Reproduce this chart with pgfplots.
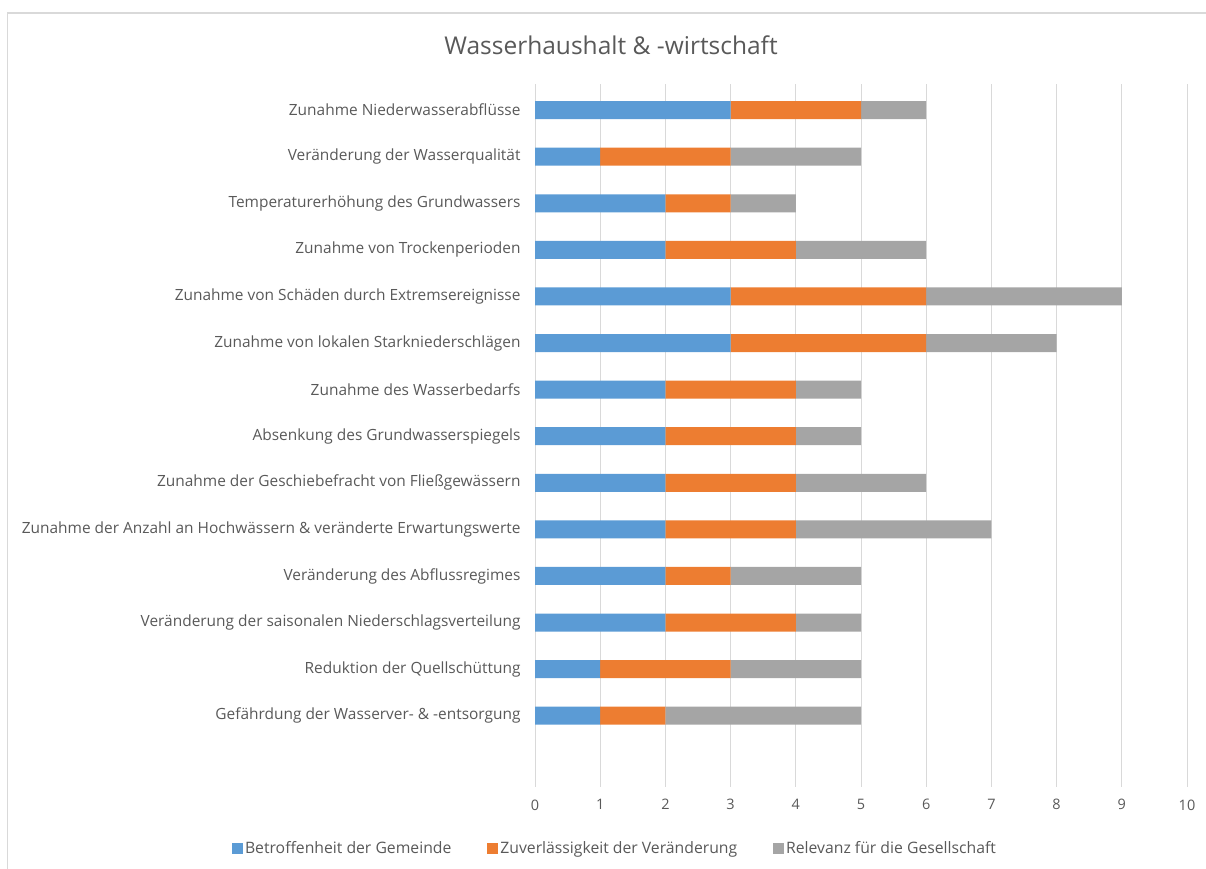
\documentclass[border=0pt]{standalone}
\usepackage{pgfplots}
\pgfplotsset{compat=1.18}
\usepackage{fontspec}
\setmainfont{Open Sans}
\definecolor{cblue}{HTML}{5B9BD5}
\definecolor{corange}{HTML}{ED7D31}
\definecolor{cgray}{HTML}{A5A5A5}
\definecolor{ctext}{HTML}{595959}
\definecolor{cgrid}{HTML}{D9D9D9}
\begin{document}
\begin{tikzpicture}
\path[use as bounding box] (0bp,0bp) rectangle (1206bp,869bp);
\draw[cgrid, line width=1.2bp] (7.5bp,0bp) -- (7.5bp,856bp) -- (1206bp,856bp);
\node[text=ctext, font=\fontsize{24.6}{29}\selectfont] at (611bp,824bp) {Wasserhaushalt \& -wirtschaft};
\begin{axis}[
  at={(535bp,82bp)}, anchor=south west,
  scale only axis, width=652bp, height=703bp,
  xbar stacked, bar width=18bp,
  xmin=0, xmax=10, xtick={0,...,10},
  ymin=0.44, ymax=15.53, y dir=reverse,
  ytick={1,...,14},
  yticklabels={
    Zunahme Niederwasserabflüsse,
    Veränderung der Wasserqualität,
    Temperaturerhöhung des Grundwassers,
    Zunahme von Trockenperioden,
    Zunahme von Schäden durch Extremsereignisse,
    Zunahme von lokalen Starkniederschlägen,
    Zunahme des Wasserbedarfs,
    Absenkung des Grundwasserspiegels,
    Zunahme der Geschiebefracht von Fließgewässern,
    Zunahme der Anzahl an Hochwässern \& veränderte Erwartungswerte,
    Veränderung des Abflussregimes,
    Veränderung der saisonalen Niederschlagsverteilung,
    Reduktion der Quellschüttung,
    Gefährdung der Wasserver- \& -entsorgung},
  axis line style={draw=none},
  major tick length=0pt,
  xmajorgrids, grid style={cgrid, line width=0.9bp},
  ticklabel style={text=ctext},
  yticklabel style={xshift=-11bp, font=\fontsize{15.5}{18}\selectfont},
  xticklabel style={yshift=-9bp, font=\fontsize{14.5}{17}\selectfont},
  /pgf/number format/assume math mode=true,
  legend columns=3,
  legend style={at={(0.1227,-0.0868)}, anchor=center, draw=none,
    font=\fontsize{15.8}{18}\selectfont, text=ctext,
    /tikz/every even column/.append style={column sep=34bp}},
  legend image code/.code={\fill[#1] (0bp,-5.5bp) rectangle (11bp,5.5bp);},
]
\addplot[fill=cblue, draw=none] coordinates {(3,1) (1,2) (2,3) (2,4) (3,5) (3,6) (2,7) (2,8) (2,9) (2,10) (2,11) (2,12) (1,13) (1,14)};
\addplot[fill=corange, draw=none] coordinates {(2,1) (2,2) (1,3) (2,4) (3,5) (3,6) (2,7) (2,8) (2,9) (2,10) (1,11) (2,12) (2,13) (1,14)};
\addplot[fill=cgray, draw=none] coordinates {(1,1) (2,2) (1,3) (2,4) (3,5) (2,6) (1,7) (1,8) (2,9) (3,10) (2,11) (1,12) (2,13) (3,14)};
\legend{Betroffenheit der Gemeinde, Zuverlässigkeit der Veränderung, Relevanz für die Gesellschaft}
\end{axis}
\end{tikzpicture}
\end{document}
